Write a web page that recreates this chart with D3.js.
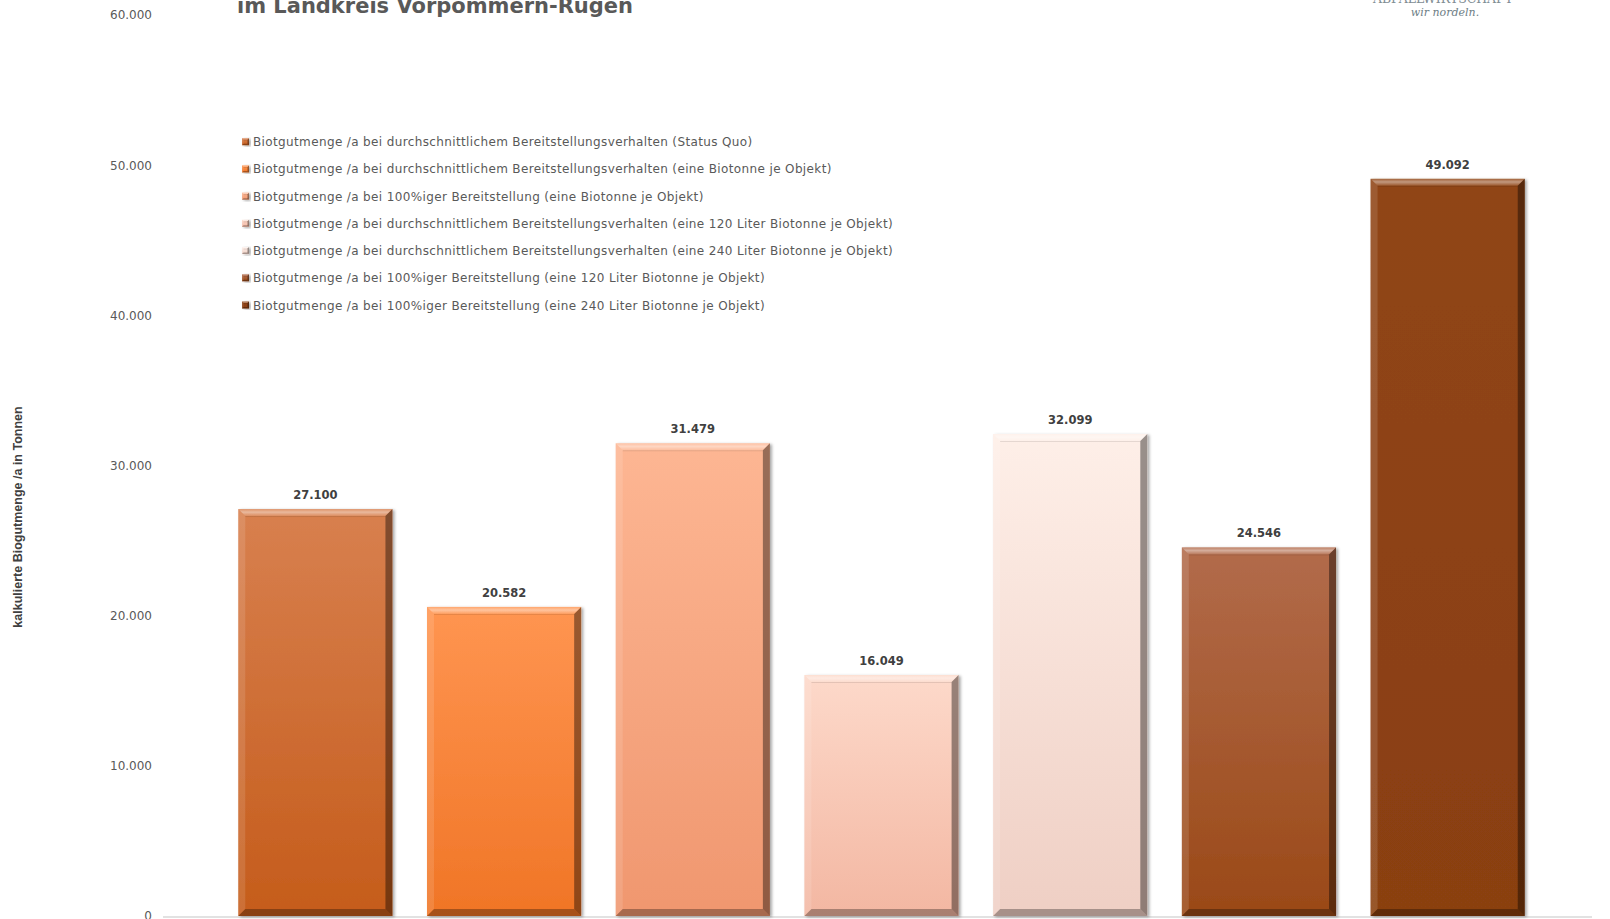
<!DOCTYPE html>
<html><head><meta charset="utf-8">
<script src="https://cdn.jsdelivr.net/npm/d3@7"></script>
<style>body{margin:0;background:#fff;} svg{display:block;}</style>
</head><body>
<svg id="c" width="1610" height="919"></svg>
<script>
const categories = [
  "Biotgutmenge /a bei durchschnittlichem Bereitstellungsverhalten (Status Quo)",
  "Biotgutmenge /a bei durchschnittlichem Bereitstellungsverhalten (eine Biotonne je Objekt)",
  "Biotgutmenge /a bei 100%iger Bereitstellung (eine Biotonne je Objekt)",
  "Biotgutmenge /a bei durchschnittlichem Bereitstellungsverhalten (eine 120 Liter Biotonne je Objekt)",
  "Biotgutmenge /a bei durchschnittlichem Bereitstellungsverhalten (eine 240 Liter Biotonne je Objekt)",
  "Biotgutmenge /a bei 100%iger Bereitstellung (eine 120 Liter Biotonne je Objekt)",
  "Biotgutmenge /a bei 100%iger Bereitstellung (eine 240 Liter Biotonne je Objekt)"
];
const values = [27100, 20582, 31479, 16049, 32099, 24546, 49092];
const colorsTop = ["#d8804f", "#ff9551", "#fdb693", "#fdd9ca", "#feefe8", "#b26b4b", "#904516"];
const colorsBottom = ["#c55c1b", "#f07526", "#f0976f", "#f3b7a2", "#efcfc4", "#9a4917", "#8a3f11"];
const yTicks = [0, 10000, 20000, 30000, 40000, 50000, 60000];
const titleText = "im Landkreis Vorpommern-Rügen";
const yTitle = "kalkulierte Biogutmenge /a in Tonnen";

const loc = d3.formatLocale({decimal: ",", thousands: ".", grouping: [3], currency: ["", "€"]});
const fmt = loc.format(",d");

const svg = d3.select("#c");
const defs = svg.append("defs");
const f = defs.append("filter").attr("id", "sh").attr("x", "-10%").attr("y", "-10%").attr("width", "130%").attr("height", "130%");
f.append("feDropShadow").attr("dx", 2).attr("dy", 1).attr("stdDeviation", 1.5).attr("flood-color", "#000").attr("flood-opacity", 0.35);

categories.forEach((c, i) => {
  const g = defs.append("linearGradient").attr("id", "g" + i).attr("x1", 0).attr("y1", 0).attr("x2", 0).attr("y2", 1);
  g.append("stop").attr("offset", "0%").attr("stop-color", colorsTop[i]);
  g.append("stop").attr("offset", "100%").attr("stop-color", colorsBottom[i]);
});
// top bevel highlight gradient
const tg = defs.append("linearGradient").attr("id", "topb").attr("x1", 0).attr("y1", 0).attr("x2", 0).attr("y2", 1);
tg.append("stop").attr("offset", "0%").attr("stop-color", "#fff").attr("stop-opacity", 0.15);
tg.append("stop").attr("offset", "45%").attr("stop-color", "#fff").attr("stop-opacity", 0.45);
tg.append("stop").attr("offset", "100%").attr("stop-color", "#fff").attr("stop-opacity", 0.1);

const y = d3.scaleLinear().domain([0, 60000]).range([916, 15]);
const x = d3.scaleBand().domain(d3.range(categories.length)).range([221, 1542]).paddingInner(0.183).paddingOuter(0.0915);

// baseline
svg.append("line").attr("x1", 163).attr("x2", 1592).attr("y1", y(0) + 1).attr("y2", y(0) + 1)
  .attr("stroke", "#d9d9d9").attr("stroke-width", 1.5);

// y tick labels
const yAxis = d3.axisLeft(y).tickValues(yTicks).tickFormat(fmt).tickSize(0).tickPadding(0);
const ya = svg.append("g").attr("transform", "translate(152,0)").call(yAxis);
ya.select(".domain").remove();
ya.selectAll("text").attr("font-family", "DejaVu Sans").attr("font-size", 12).attr("fill", "#595959");

// y title
svg.append("text").attr("transform", "translate(22,517) rotate(-90)").attr("text-anchor", "middle")
  .attr("font-family", "Liberation Sans").attr("font-weight", "bold").attr("font-size", 12.5)
  .attr("fill", "#404040").text(yTitle);

function bevelBar(g, x0, y0, w, h, b, i) {
  const bb = Math.min(b, h / 2);
  const grp = g.append("g");
  grp.append("rect").attr("x", x0).attr("y", y0).attr("width", w).attr("height", h)
    .attr("fill", `url(#g${i})`).attr("filter", "url(#sh)");
  const poly = (pts, fill, op) => grp.append("polygon").attr("points", pts.map(p => p.join(",")).join(" "))
    .attr("fill", fill).attr("fill-opacity", op);
  poly([[x0, y0], [x0 + w, y0], [x0 + w - bb, y0 + bb], [x0 + bb, y0 + bb]], "url(#topb)", 1);
  poly([[x0, y0], [x0 + bb, y0 + bb], [x0 + bb, y0 + h - bb], [x0, y0 + h]], "#fff", 0.12);
  poly([[x0 + w, y0], [x0 + w, y0 + h], [x0 + w - bb, y0 + h - bb], [x0 + w - bb, y0 + bb]], "#000", 0.4);
  poly([[x0, y0 + h], [x0 + w, y0 + h], [x0 + w - bb, y0 + h - bb], [x0 + bb, y0 + h - bb]], "#000", 0.3);
  grp.append("line").attr("x1", x0 + bb).attr("x2", x0 + w - bb).attr("y1", y0 + bb + 0.5).attr("y2", y0 + bb + 0.5)
    .attr("stroke", "#000").attr("stroke-opacity", 0.1);
}

const bars = svg.append("g");
values.forEach((v, i) => {
  const x0 = x(i), w = x.bandwidth();
  bevelBar(bars, x0, y(v), w, y(0) - y(v), 7, i);
});

svg.append("g").selectAll("text").data(values).join("text")
  .attr("x", (d, i) => x(i) + x.bandwidth() / 2).attr("y", d => y(d) - 10)
  .attr("text-anchor", "middle").attr("font-family", "DejaVu Sans").attr("font-weight", "bold")
  .attr("font-size", 11.5).attr("fill", "#404040").text(d => fmt(d));

// legend
const leg = svg.append("g");
const legItems = leg.selectAll("g").data(categories).join("g")
  .attr("transform", (d, i) => `translate(242,${141.7 + i * 27.22})`);
legItems.each(function (d, i) {
  bevelBar(d3.select(this), 0, -3.5, 7, 7, 1.5, i);
});
const lt = legItems.append("text").attr("x", 11).attr("y", 4.5)
  .attr("font-family", "DejaVu Sans").attr("font-size", 12).attr("fill", "#595959").text(d => d);
let maxW = 0, maxN = 1;
lt.each(function (d) { const w = this.getComputedTextLength(); if (w > maxW) { maxW = w; maxN = d.length; } });
const ls = (640 - maxW) / maxN;
lt.attr("letter-spacing", ls);

// title (first line lies above the visible area)
svg.append("text").attr("x", 237).attr("y", 12.5).attr("font-family", "DejaVu Sans").attr("font-weight", "bold")
  .attr("font-size", 22).attr("fill", "#595959").attr("textLength", 396).attr("lengthAdjust", "spacingAndGlyphs").text(titleText);

// logo
svg.append("text").attr("x", 1443).attr("y", 3).attr("text-anchor", "middle").attr("font-family", "DejaVu Serif")
  .attr("font-size", 13).attr("fill", "#7f8d94").attr("textLength", 140).attr("lengthAdjust", "spacingAndGlyphs").text("ABFALLWIRTSCHAFT");
svg.append("text").attr("x", 1445).attr("y", 16).attr("text-anchor", "middle").attr("font-family", "DejaVu Serif")
  .attr("font-style", "italic").attr("font-size", 11).attr("fill", "#6e7e86").text("wir nordeln.");
</script>
</body></html>
